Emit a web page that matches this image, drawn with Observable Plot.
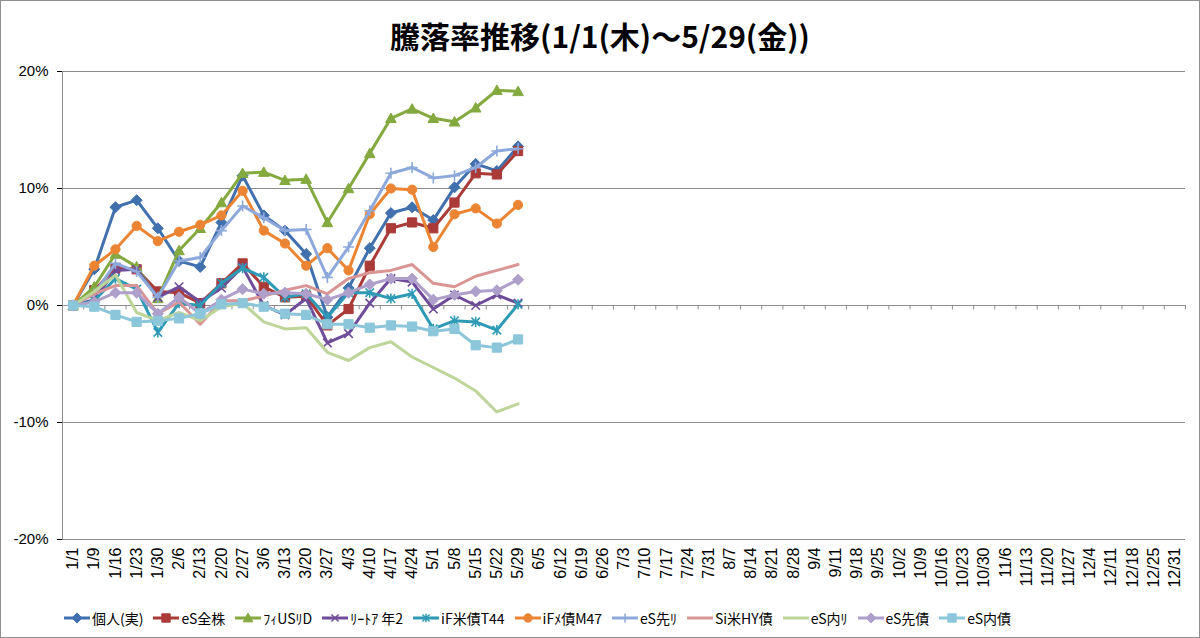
<!DOCTYPE html>
<html><head><meta charset="utf-8">
<script src="https://cdn.jsdelivr.net/npm/d3@7"></script>
<script src="https://cdn.jsdelivr.net/npm/@observablehq/plot@0.6"></script>
<style>
body{margin:0;background:#fff;}
#chart{position:relative;width:1200px;height:638px;box-sizing:border-box;border:1px solid #8e8e8e;background:#fff;overflow:hidden;font-family:"Noto Sans CJK JP",sans-serif;}
#title{height:56px;box-sizing:border-box;padding-top:14px;line-height:40px;text-align:center;font-size:30px;font-weight:bold;color:#000;}
#legend{display:flex;align-items:center;height:41px;box-sizing:border-box;padding-top:4px;padding-left:63px;font-size:14px;color:#000;}
.item{display:flex;align-items:center;margin-right:10px;white-space:nowrap;}
.item svg{margin-right:2px;}
#plot g[aria-label^="x-axis"] text{font-size:16px;}
</style></head>
<body>
<div id="chart">
<div id="title">騰落率推移(1/1(木)～5/29(金))</div>
<div id="plot"></div>
<div id="legend"></div>
</div>
<script>
const dates = ["1/1","1/9","1/16","1/23","1/30","2/6","2/13","2/20","2/27","3/6","3/13","3/20","3/27","4/3","4/10","4/17","4/24","5/1","5/8","5/15","5/22","5/29","6/5","6/12","6/19","6/26","7/3","7/10","7/17","7/24","7/31","8/7","8/14","8/21","8/28","9/4","9/11","9/18","9/25","10/2","10/9","10/16","10/23","10/30","11/6","11/13","11/20","11/27","12/4","12/11","12/18","12/25","12/31"];
const names = ["個人(実)","eS全株","ﾌｨUSﾘD","ﾘｰﾄｱ 年2","iF米債T44","iFﾒ債M47","eS先ﾘ","Si米HY債","eS内ﾘ","eS先債","eS内債"];
const kojin     = [0, 3.1, 8.4, 9.0, 6.6, 3.8, 3.3, 7.1, 11.1, 7.7, 6.4, 4.4, -1.0, 1.5, 4.9, 7.9, 8.4, 7.3, 10.1, 12.1, 11.5, 13.6];
const esZenkabu = [0, 1.3, 3.2, 3.1, 1.2, 1.1, 0.2, 1.9, 3.6, 1.6, 0.7, 0.8, -1.7, -0.3, 3.4, 6.6, 7.1, 6.6, 8.8, 11.3, 11.2, 13.2];
const fiUSReit  = [0, 1.6, 4.4, 3.3, 0.6, 4.7, 6.6, 8.8, 11.3, 11.4, 10.7, 10.8, 7.1, 10.0, 13.0, 16.0, 16.8, 16.0, 15.7, 16.9, 18.4, 18.3];
const reitA2    = [0, 0.5, 3.0, 3.1, 0.7, 1.6, 0.3, 1.5, 3.3, 0.0, -0.8, 0.6, -3.2, -2.4, 0.2, 2.3, 2.0, -0.3, 0.9, 0.0, 0.9, 0.2];
const ifBeiT44  = [0, 0.4, 2.3, 1.4, -2.3, 0.2, 0.0, 1.9, 3.2, 2.4, 0.7, 1.0, -1.0, 1.1, 1.1, 0.6, 1.0, -2.0, -1.3, -1.4, -2.1, 0.1];
const ifMeM47   = [0, 3.4, 4.8, 6.8, 5.5, 6.3, 6.9, 7.7, 9.8, 6.4, 5.3, 3.4, 4.9, 3.0, 7.8, 10.0, 9.9, 5.0, 7.8, 8.3, 7.0, 8.6];
const esSakiR   = [0, 1.0, 3.6, 2.9, 0.7, 3.8, 4.1, 6.4, 8.5, 7.5, 6.4, 6.5, 2.4, 5.0, 8.1, 11.3, 11.8, 10.9, 11.1, 11.8, 13.2, 13.4];
const siHY      = [0, 1.0, 1.7, 1.7, -0.7, 0.3, -1.6, 0.4, 0.4, 0.8, 1.3, 1.7, 1.0, 2.3, 2.8, 3.0, 3.5, 1.9, 1.6, 2.5, 3.0, 3.5];
const esUchiR   = [0, 1.2, 2.6, -0.6, -1.3, -0.6, -1.3, -0.1, 0.2, -1.4, -2.0, -1.9, -4.0, -4.7, -3.6, -3.1, -4.4, -5.3, -6.2, -7.3, -9.1, -8.4];
const esSakiSai = [0, 0.3, 1.1, 1.1, -0.7, 0.7, -0.7, 0.5, 1.4, 1.0, 1.1, 1.0, 0.5, 1.1, 1.8, 2.3, 2.3, 0.5, 0.9, 1.2, 1.3, 2.2];
const esUchiSai = [0, -0.1, -0.8, -1.4, -1.3, -1.1, -0.7, 0.1, 0.2, -0.1, -0.7, -0.8, -1.6, -1.6, -1.9, -1.7, -1.8, -2.2, -2.0, -3.4, -3.6, -2.9];
const yTicks = [-20, -10, 0, 10, 20];
const colors = ["#4170AE","#AA3B39","#83A93F","#6F4C99","#2F9AB6","#EC8533","#8DA8DA","#D99593","#BDD598","#AE9FCB","#8CC6DA"];

// marker shapes (Excel-like)
const R = s => Math.sqrt(s / Math.PI);
const mDiamond = {draw(c, s){const r=R(s)*1.2; c.moveTo(0,-r); c.lineTo(r,0); c.lineTo(0,r); c.lineTo(-r,0); c.closePath();}};
const mSquare = {draw(c, s){const r=R(s); c.rect(-r,-r,2*r,2*r);}};
const mTriangle = {draw(c, s){const r=R(s)*1.15; c.moveTo(0,-r); c.lineTo(r,r*0.8); c.lineTo(-r,r*0.8); c.closePath();}};
const mTimes = {draw(c, s){const r=R(s)*0.85; c.moveTo(-r,-r); c.lineTo(r,r); c.moveTo(r,-r); c.lineTo(-r,r);}};
const mAster = {draw(c, s){const r=R(s)*0.85; c.moveTo(-r,-r); c.lineTo(r,r); c.moveTo(r,-r); c.lineTo(-r,r); c.moveTo(0,-r*1.2); c.lineTo(0,r*1.2);}};
const mCircle = {draw(c, s){const r=R(s); c.moveTo(r,0); c.arc(0,0,r,0,2*Math.PI);}};
const mPlus = {draw(c, s){const r=R(s)*1.1; c.moveTo(-r,0); c.lineTo(r,0); c.moveTo(0,-r); c.lineTo(0,r);}};
const markers = [mDiamond, mSquare, mTriangle, mTimes, mAster, mCircle, mPlus, null, null, mDiamond, mSquare];
const strokeMarker = [false,false,false,true,true,false,true,false,false,false,false];

const valuesList = [kojin, esZenkabu, fiUSReit, reitA2, ifBeiT44, ifMeM47, esSakiR, siHY, esUchiR, esSakiSai, esUchiSai];
const series = names.map((name, k) => ({
  name, color: colors[k], marker: markers[k], strokeMarker: strokeMarker[k],
  data: valuesList[k].map((v, i) => ({i, v, name}))
}));

const boundaries = d3.range(dates.length + 1).map(i => i - 0.5);

const marks = [
  Plot.ruleY(yTicks.filter(d => d !== 0), {stroke: "#8c8c8c", strokeWidth: 1}),
  Plot.ruleX([-0.5], {y1: -20, y2: 20, stroke: "#8c8c8c", strokeWidth: 1}),
  Plot.ruleY([0], {stroke: "#8c8c8c", strokeWidth: 1}),
  Plot.ruleX(boundaries, {y1: 0, y2: -0.38, stroke: "#8c8c8c", strokeWidth: 1})
];
for (const s of series) {
  marks.push(Plot.line(s.data, {x: "i", y: "v", stroke: s.color, strokeWidth: 3, strokeLinejoin: "round", strokeLinecap: "round"}));
  if (s.marker) {
    marks.push(Plot.dot(s.data, s.strokeMarker
      ? {x: "i", y: "v", symbol: s.marker, r: 5, fill: "none", stroke: s.color, strokeWidth: 1.6}
      : {x: "i", y: "v", symbol: s.marker, r: 4.6, fill: s.color, stroke: s.color, strokeWidth: 1}));
  }
}

const chart = Plot.plot({
  width: 1198, height: 538,
  marginTop: 14, marginBottom: 56, marginLeft: 61, marginRight: 14,
  style: {fontFamily: "'Liberation Sans', sans-serif", fontSize: "15px", color: "#000", background: "#fff", overflow: "visible"},
  x: {type: "linear", domain: [-0.5, dates.length - 0.5], ticks: d3.range(dates.length), tickFormat: i => dates[i], tickRotate: -90, tickSize: 0, tickPadding: 8, label: null},
  y: {domain: [-20, 20], ticks: yTicks, tickFormat: d => d + "%", tickSize: 5, tickPadding: 9, label: null},
  marks
});
document.getElementById("plot").appendChild(chart);

// legend
const legend = document.getElementById("legend");
for (const s of series) {
  const item = document.createElement("span");
  item.className = "item";
  const ns = "http://www.w3.org/2000/svg";
  const svg = document.createElementNS(ns, "svg");
  svg.setAttribute("width", 26); svg.setAttribute("height", 14);
  const line = document.createElementNS(ns, "line");
  line.setAttribute("x1", 0); line.setAttribute("x2", 26); line.setAttribute("y1", 7); line.setAttribute("y2", 7);
  line.setAttribute("stroke", s.color); line.setAttribute("stroke-width", 3);
  svg.appendChild(line);
  if (s.marker) {
    const p = d3.path();
    s.marker.draw(p, Math.PI * 4.2 * 4.2);
    const path = document.createElementNS(ns, "path");
    path.setAttribute("d", p.toString());
    path.setAttribute("transform", "translate(13,7)");
    path.setAttribute("fill", s.strokeMarker ? "none" : s.color);
    path.setAttribute("stroke", s.color);
    path.setAttribute("stroke-width", s.strokeMarker ? 1.5 : 1);
    svg.appendChild(path);
  }
  item.appendChild(svg);
  const label = document.createElement("span");
  label.textContent = s.name;
  item.appendChild(label);
  legend.appendChild(item);
}
</script>
</body></html>
